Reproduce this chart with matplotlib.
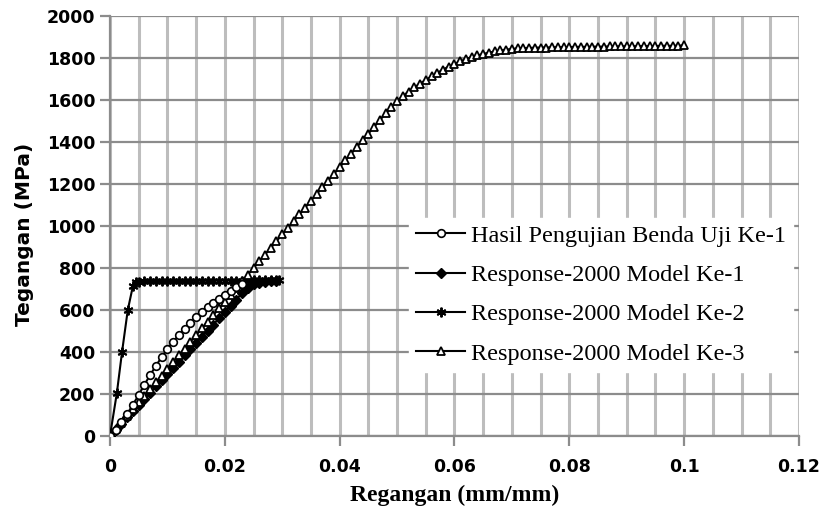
import matplotlib
matplotlib.use("Agg")
import matplotlib.pyplot as plt
from matplotlib.ticker import MultipleLocator

# ── data ──
hasil_strain = [0, 0.001, 0.002, 0.003, 0.004, 0.005, 0.006, 0.007, 0.008, 0.009,
                0.010, 0.011, 0.012, 0.013, 0.014, 0.015, 0.016, 0.017, 0.018,
                0.019, 0.020, 0.021, 0.022, 0.023]
hasil_stress = [0, 30, 65, 105, 150, 195, 245, 290, 335, 375,
                415, 450, 480, 510, 540, 565, 590, 612, 632,
                652, 672, 692, 710, 725]

ke1_strain = [0, 0.001, 0.002, 0.003, 0.004, 0.005, 0.006, 0.007, 0.008, 0.009,
              0.010, 0.011, 0.012, 0.013, 0.014, 0.015, 0.016, 0.017, 0.018,
              0.019, 0.020, 0.021, 0.022, 0.023, 0.024, 0.025, 0.026, 0.027,
              0.028, 0.029]
ke1_stress = [0, 30, 59, 89, 118, 148, 177, 207, 236, 266,
              295, 325, 354, 384, 413, 443, 472, 502, 531,
              561, 590, 620, 650, 680, 705, 722, 730, 735,
              737, 738]

ke2_strain = [0, 0.0012, 0.0021, 0.0031, 0.0040, 0.0045, 0.0050, 0.0060, 0.0070,
              0.0080, 0.0090, 0.0100, 0.0110, 0.0120, 0.0130, 0.0140, 0.0150,
              0.0160, 0.0170, 0.0180, 0.0190, 0.0200, 0.0210, 0.0220, 0.0230,
              0.0240, 0.0250, 0.0260, 0.0270, 0.0280, 0.0290, 0.0295]
ke2_stress = [0, 205, 400, 600, 715, 732, 735, 736, 736,
              737, 737, 737, 738, 738, 738, 738, 739,
              739, 739, 739, 740, 740, 740, 740, 740,
              741, 741, 741, 741, 741, 742, 742]

ke3_strain = [0, 0.001, 0.002, 0.003, 0.004, 0.005, 0.006, 0.007, 0.008, 0.009,
              0.010, 0.011, 0.012, 0.013, 0.014, 0.015, 0.016, 0.017, 0.018, 0.019,
              0.020, 0.021, 0.022, 0.023, 0.024, 0.025, 0.026, 0.027, 0.028, 0.029,
              0.030, 0.031, 0.032, 0.033, 0.034, 0.035, 0.036, 0.037, 0.038, 0.039,
              0.040, 0.041, 0.042, 0.043, 0.044, 0.045, 0.046, 0.047, 0.048, 0.049,
              0.050, 0.051, 0.052, 0.053, 0.054, 0.055, 0.056, 0.057, 0.058, 0.059,
              0.060, 0.061, 0.062, 0.063, 0.064, 0.065, 0.066, 0.067, 0.068, 0.069,
              0.070, 0.071, 0.072, 0.073, 0.074, 0.075, 0.076, 0.077, 0.078, 0.079,
              0.080, 0.081, 0.082, 0.083, 0.084, 0.085, 0.086, 0.087, 0.088, 0.089,
              0.090, 0.091, 0.092, 0.093, 0.094, 0.095, 0.096, 0.097, 0.098, 0.099,
              0.100]
ke3_stress = [0, 32, 64, 96, 128, 160, 192, 224, 256, 288,
              320, 352, 384, 416, 448, 480, 512, 544, 576, 608,
              640, 672, 704, 736, 768, 800, 832, 864, 896, 928,
              960, 992, 1024, 1056, 1088, 1120, 1152, 1184, 1216, 1248,
              1280, 1312, 1344, 1376, 1408, 1440, 1472, 1504, 1536, 1566,
              1595, 1618, 1640, 1660, 1678, 1695, 1712, 1729, 1745, 1759,
              1772, 1784, 1795, 1804, 1812, 1819, 1826, 1831, 1836, 1840,
              1843, 1846, 1847, 1848, 1849, 1850, 1850, 1851, 1851, 1852,
              1852, 1853, 1853, 1853, 1854, 1854, 1854, 1855, 1855, 1855,
              1856, 1856, 1856, 1857, 1857, 1857, 1858, 1858, 1858, 1859,
              1860]

fig = plt.figure(figsize=(8.25, 5.23), dpi=100)
ax = fig.add_axes([0.1333, 0.1663, 0.8352, 0.8031])

# grid: light thick verticals every 0.005, darker horizontals every 200
ax.xaxis.set_major_locator(MultipleLocator(0.02))
ax.xaxis.set_minor_locator(MultipleLocator(0.005))
ax.yaxis.set_major_locator(MultipleLocator(200))
ax.grid(which='both', axis='x', color='#bdbdbd', linewidth=2.2, zorder=0)
ax.grid(which='major', axis='y', color='#8c8c8c', linewidth=1.6, zorder=0)
ax.set_axisbelow(True)

for s in ['top', 'right']:
    ax.spines[s].set_visible(False)
ax.spines['left'].set_color('#8c8c8c')
ax.spines['left'].set_linewidth(1.6)
ax.spines['bottom'].set_color('#8c8c8c')
ax.spines['bottom'].set_linewidth(1.6)
ax.tick_params(which='major', direction='out', length=7, width=1.6, color='#8c8c8c')
ax.tick_params(axis='x', which='major', pad=9)
ax.tick_params(which='minor', length=0)

ax.plot(hasil_strain, hasil_stress, color='black', lw=1.5, marker='o', ms=5.5,
        mfc='white', mec='black', mew=1.2, label='Hasil Pengujian Benda Uji Ke-1', zorder=4)
ax.plot(ke1_strain, ke1_stress, color='black', lw=1.5, marker='D', ms=5,
        mfc='black', mec='black', label='Response-2000 Model Ke-1', zorder=3)
ax.plot(ke2_strain, ke2_stress, color='black', lw=1.5, marker=(6, 2, 0), ms=7,
        mew=1.4, label='Response-2000 Model Ke-2', zorder=3)
ax.plot(ke3_strain, ke3_stress, color='black', lw=1.5, marker='^', ms=6,
        mfc='white', mec='black', mew=1.3, label='Response-2000 Model Ke-3', zorder=3)

ax.set_xlim(0, 0.12)
ax.set_ylim(0, 2000)
ax.set_xticks([0, 0.02, 0.04, 0.06, 0.08, 0.1, 0.12])
ax.set_xticklabels(['0', '0.02', '0.04', '0.06', '0.08', '0.1', '0.12'])

for lab in ax.get_xticklabels() + ax.get_yticklabels():
    lab.set_fontsize(12.5)
    lab.set_fontweight('bold')
    lab.set_family('DejaVu Sans')

ax.set_xlabel('Regangan (mm/mm)', fontsize=17, fontweight='bold',
              family='Liberation Serif', labelpad=6)
ax.set_ylabel('Tegangan (MPa)', fontsize=14.5, fontweight='bold',
              family='DejaVu Sans')
ax.yaxis.set_label_coords(-0.11, 0.48)

leg = ax.legend(loc='upper left', bbox_to_anchor=(0.434, 0.52), frameon=True,
                fancybox=False, edgecolor='white', framealpha=1.0,
                prop={'family': 'Liberation Serif', 'size': 17.5},
                handlelength=2.0, handletextpad=0.25, labelspacing=0.71,
                borderpad=0.3, borderaxespad=0)

plt.savefig('out.png', dpi=100)
